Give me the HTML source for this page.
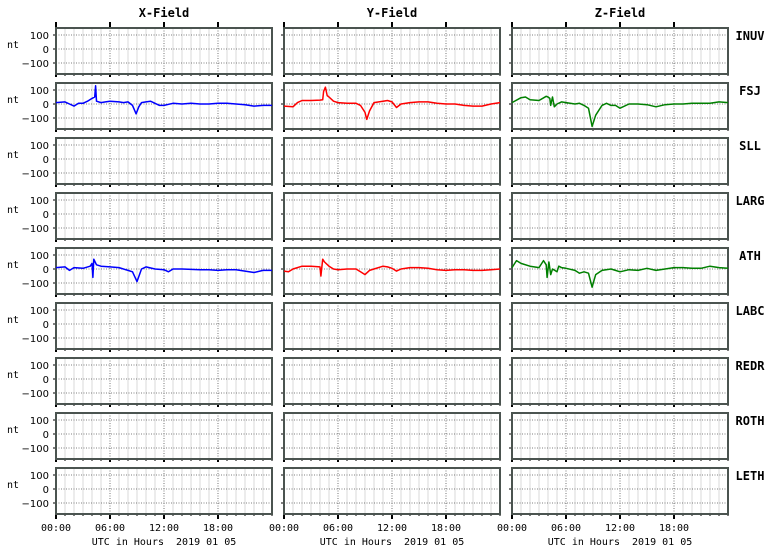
<!DOCTYPE html>
<html><head><meta charset="utf-8"><style>
body{margin:0;background:#fff;}
svg{display:block;font-family:"DejaVu Sans","Liberation Sans",sans-serif;}
.mono{font-family:"DejaVu Sans Mono","Liberation Mono",monospace;}
</style></head><body>
<svg id="chart" width="771" height="553"></svg>
<script>
const stations=["INUV","FSJ","SLL","LARG","ATH","LABC","REDR","ROTH","LETH"];
const fields=["X-Field","Y-Field","Z-Field"];
const xTickLabels=["00:00","06:00","12:00","18:00"];
const yTicks=[100,0,-100];
const fsjT=[0,1,1.5,2,2.5,3,3.5,4,4.3,4.4,4.5,5,5.5,6,7,7.5,8,8.5,8.9,9.2,9.5,10,10.5,11,11.5,12,13,14,15,16,17,18,19,20,21,22,23,24];
const fsjX=[10,15,0,-15,5,5,20,40,50,130,20,10,15,20,15,10,15,-10,-70,-20,10,15,20,5,-10,-10,5,0,5,0,0,5,5,0,-5,-15,-10,-10];
const fsjYT=[0,1,1.5,2,3,4,4.3,4.4,4.6,4.8,5,5.5,6,7,8,8.5,9,9.2,9.5,10,11,11.5,12,12.5,13,14,15,16,17,18,19,20,21,22,23,24];
const fsjY=[-15,-20,10,25,25,28,30,90,120,60,50,20,10,5,5,-10,-60,-110,-50,10,20,25,15,-25,0,10,15,15,5,0,0,-10,-15,-15,0,10];
const fsjZT=[0,1,1.5,2,3,3.8,4,4.2,4.3,4.5,4.7,5,5.5,6,7,7.5,8,8.5,8.9,9.3,10,10.5,11,11.5,12,13,14,15,16,17,18,19,20,21,22,23,24];
const fsjZ=[10,45,50,30,25,55,50,40,-10,50,-20,0,15,10,0,5,-10,-30,-160,-80,-10,5,-10,-10,-30,0,0,-5,-20,-5,0,0,5,5,5,15,10];
const athXT=[0,1,1.5,2,3,3.8,4,4.1,4.2,4.5,5,6,7,8,8.5,9,9.5,10,11,12,12.5,13,14,16,17,18,19,20,22,23,24];
const athX=[10,15,-10,10,5,20,40,-60,70,30,20,15,10,-10,-20,-90,0,15,0,-5,-20,0,0,-5,-5,-10,-5,-5,-25,-10,-10];
const athYT=[0,0.5,1,2,3,4,4.1,4.3,4.5,5,5.5,6,7,8,8.5,9,9.5,10,11,11.5,12,12.5,13,14,15,16,17,18,19,20,21,22,23,24];
const athY=[-15,-20,0,20,20,15,-50,70,50,20,0,-5,0,0,-20,-40,-10,0,20,15,5,-15,0,10,10,5,-5,-10,-5,-5,-10,-10,-5,0];
const athZT=[0,0.5,1,2,3,3.5,3.8,3.9,4.1,4.3,4.5,5,5.2,5.5,6,7,7.5,8,8.5,8.9,9.3,10,11,11.5,12,13,14,15,16,17,18,19,20,21,22,23,24];
const athZ=[10,60,40,20,10,60,30,-60,50,-40,0,-20,20,10,5,-10,-30,-20,-30,-130,-40,-10,0,-10,-20,-5,-10,5,-10,0,10,10,5,5,20,10,5];
const series=[
 {row:1,col:0,t:fsjT,v:fsjX,c:"#0000ff"},{row:1,col:1,t:fsjYT,v:fsjY,c:"#ff0000"},{row:1,col:2,t:fsjZT,v:fsjZ,c:"#008000"},
 {row:4,col:0,t:athXT,v:athX,c:"#0000ff"},{row:4,col:1,t:athYT,v:athY,c:"#ff0000"},{row:4,col:2,t:athZT,v:athZ,c:"#008000"}];
const NS="http://www.w3.org/2000/svg";
const svg=document.getElementById("chart");
function el(tag,a,parent){const e=document.createElementNS(NS,tag);for(const k in a)e.setAttribute(k,a[k]);(parent||svg).appendChild(e);return e;}
const X0=56,PW=216,COLSTEP=228,Y0=28,PH=46,ROWSTEP=55;
function xs(col,h){return X0+col*COLSTEP+h*PW/24;}
function ys(row,v){return Y0+row*ROWSTEP+21-v*0.14;}
fields.forEach((f,c)=>{const t=el("text",{x:xs(c,12),y:17,"text-anchor":"middle","font-size":12,"font-weight":"bold",class:"mono"});

t.textContent=f;
 for(let k=0;k<4;k++)el("line",{x1:xs(c,k*6),x2:xs(c,k*6),y1:22,y2:28,stroke:"#000","stroke-width":2});});
stations.forEach((s,r)=>{
 const top=Y0+r*ROWSTEP;
 const g=el("g",{});
 
 
 const nt=el("text",{x:13,y:ys(r,0)-5+4,"font-size":10,"text-anchor":"middle",class:"mono"},g);nt.textContent="nt";
 yTicks.forEach(v=>{const t=el("text",{x:49,y:ys(r,v)+4,"font-size":10,"text-anchor":"end"},g);t.textContent=(v<0?"\u2212"+(-v):v);});
 const st=el("text",{x:750,y:top+12,"font-size":12,"font-weight":"bold","text-anchor":"middle",class:"mono"},g);st.textContent=s;
 for(let c=0;c<3;c++){
  const p=el("g",{},g);
  
  
  for(let h=1;h<24;h++){if(h%6)el("line",{x1:xs(c,h),x2:xs(c,h),y1:top,y2:top+PH,stroke:"#d8d8d8","stroke-width":1},p);}
  for(let h=6;h<24;h+=6)el("line",{x1:xs(c,h),x2:xs(c,h),y1:top,y2:top+PH,stroke:"#555","stroke-width":0.8,"stroke-dasharray":"1,1.5"},p);
  yTicks.forEach(v=>el("line",{x1:xs(c,0),x2:xs(c,24),y1:ys(r,v),y2:ys(r,v),stroke:"#555","stroke-width":0.8,"stroke-dasharray":"1,1.5"},p));
  yTicks.forEach(v=>el("line",{x1:xs(c,0)-3,x2:xs(c,0),y1:ys(r,v),y2:ys(r,v),stroke:"#000","stroke-width":1},p));
  for(let h=0;h<=24;h++){const maj=h%6==0&&h<24;el("line",{x1:xs(c,h),x2:xs(c,h),y1:top+PH,y2:top+PH+(maj?(r==8?5:3):2),stroke:"#000","stroke-width":maj?2:1},p);}
  el("rect",{x:xs(c,0),y:top,width:PW,height:PH,fill:"none",stroke:"#4b5450","stroke-width":2},p);
 }
});
series.forEach(s=>{
 const d=s.t.map((h,i)=>(i?"L":"M")+xs(s.col,h).toFixed(1)+","+ys(s.row,s.v[i]).toFixed(1)).join("");
 const path=el("path",{d:d,fill:"none",stroke:s.c,"stroke-width":1.5,"stroke-linejoin":"round"});
 
 
});
for(let c=0;c<3;c++){
 xTickLabels.forEach((l,k)=>{const t=el("text",{x:xs(c,k*6),y:531,"font-size":10,"text-anchor":"middle",class:"mono"});t.textContent=l;});
 const t=el("text",{x:xs(c,12),y:545,"font-size":10,"text-anchor":"middle",class:"mono"});
 
 
 t.textContent="UTC in Hours  2019 01 05";t.setAttribute("xml:space","preserve");t.style.whiteSpace="pre";
}
</script>
</body></html>
